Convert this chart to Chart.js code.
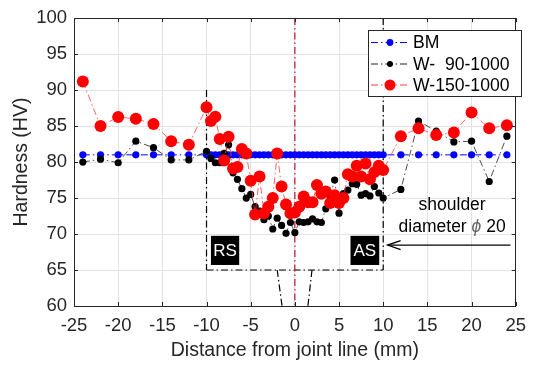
<!DOCTYPE html>
<html><head><meta charset="utf-8">
<script src="https://cdn.jsdelivr.net/npm/chart.js@4.4.0/dist/chart.umd.min.js"></script>
<style>html,body{margin:0;padding:0;background:#fff}canvas{display:block}</style>
</head><body>
<canvas id="c" width="535" height="365" style="width:535px;height:365px"></canvas>
<script>
// ---- data ----
const distances = [-24,-22,-20,-18,-16,-14,-12,
  -10,-9.5,-9,-8.5,-8,-7.5,-7,-6.5,-6,-5.5,-5,-4.5,-4,-3.5,-3,-2.5,-2,-1.5,-1,-0.5,
  0,0.5,1,1.5,2,2.5,3,3.5,4,4.5,5,5.5,6,6.5,7,7.5,8,8.5,9,9.5,10,
  12,14,16,18,20,22,24];
const bmHardness = [81,81,81,81,81,81,81,
  81,81,81,81,81,81,81,81,81,81,81,81,81,81,81,81,81,81,81,81,
  81,81,81,81,81,81,81,81,81,81,81,81,81,81,81,81,81,81,81,81,81,
  81,81,81,81,81,81,81];
const w90Hardness = [80.0,80.4,79.9,82.9,82.0,80.3,80.3,
  81.5,80.5,79.9,79.9,81.2,82.4,78.5,77.6,76.3,75.0,75.5,73.8,73.2,72.0,72.5,70.7,72.2,71.2,70.1,71.6,
  70.2,71.7,71.6,71.7,72.1,71.7,71.6,73.5,75.2,77.5,72.9,75.6,76.1,77.0,76.9,75.4,75.6,75.3,76.6,75.7,75.0,
  76.2,85.7,84.3,82.8,82.9,77.3,83.6];
const w150Hardness = [91.2,85.0,86.25,86.0,85.3,82.9,82.4,
  87.6,85.7,86.3,83.2,80.2,83.5,79.1,79.3,81.8,81.2,77.4,72.7,78.0,72.9,73.8,75.0,81.2,76.6,74.1,72.9,
  73.0,73.8,75.2,74.4,74.4,76.8,75.6,75.9,74.3,75.4,74.3,75.0,78.3,78.0,79.5,78.0,79.8,77.6,78.6,79.5,78.9,
  83.6,84.7,83.75,84.1,86.9,84.7,85.1];
const seriesLabels = ['BM', 'W-  90-1000', 'W-150-1000'];
const xLabel = 'Distance from joint line (mm)';
const yLabel = 'Hardness (HV)';

const FONT = '"Liberation Sans", Arial, sans-serif';
const DASHDOT = [7, 3, 1.5, 3];
const pts = (ys) => distances.map((x, i) => ({x: x, y: ys[i]}));

const styles = [
  {line: '#0000ff', pt: '#0000ff', r: 3.6, w: 1},
  {line: '#222222', pt: '#000000', r: 3.6, w: 0.8},
  {line: '#ff3b3b', pt: '#ff0000', r: 6, w: 0.8}
];

function dashLine(ctx, x1, y1, x2, y2, color, w) {
  ctx.save();
  ctx.strokeStyle = color; ctx.lineWidth = w; ctx.setLineDash(DASHDOT);
  ctx.beginPath(); ctx.moveTo(x1, y1); ctx.lineTo(x2, y2); ctx.stroke();
  ctx.restore();
}

const annot = {
  id: 'annot',
  beforeDatasetsDraw(chart) {
    const ctx = chart.ctx, xs = chart.scales.x, ys = chart.scales.y;
    const X = v => xs.getPixelForValue(v), Y = v => ys.getPixelForValue(v);
    dashLine(ctx, X(-10), Y(90), X(-10), Y(65), '#000', 1.2);
    dashLine(ctx, X(10), Y(100), X(10), Y(65), '#000', 1.2);
    dashLine(ctx, X(-10), Y(65), X(10), Y(65), '#000', 1.2);
    dashLine(ctx, X(-2.0), Y(65), X(-1.45), Y(60), '#000', 1.2);
    dashLine(ctx, X(1.94), Y(65), X(1.48), Y(60), '#000', 1.2);
    dashLine(ctx, X(0), Y(100), X(0), Y(60), '#c0102a', 1.2);
  },
  afterDraw(chart) {
    const ctx = chart.ctx, xs = chart.scales.x, ys = chart.scales.y, a = chart.chartArea;
    const X = v => xs.getPixelForValue(v), Y = v => ys.getPixelForValue(v);
    ctx.save();
    // frame
    ctx.strokeStyle = '#262626'; ctx.lineWidth = 1; ctx.setLineDash([]);
    ctx.strokeRect(Math.round(a.left) + 0.5, Math.round(a.top) + 0.5, Math.round(a.right - a.left) - 1, Math.round(a.bottom - a.top));
    ctx.beginPath();
    for (let v = -25; v <= 25; v += 5) {
      const px = Math.round(X(v)) + 0.5;
      ctx.moveTo(px, a.bottom); ctx.lineTo(px, a.bottom - 4);
      ctx.moveTo(px, a.top); ctx.lineTo(px, a.top + 4);
    }
    for (let v = 60; v <= 100; v += 5) {
      const py = Math.round(Y(v)) + 0.5;
      ctx.moveTo(a.left, py); ctx.lineTo(a.left + 4, py);
      ctx.moveTo(a.right, py); ctx.lineTo(a.right - 4, py);
    }
    ctx.stroke();

    // RS / AS boxes
    ctx.fillStyle = '#000';
    const boxes = [['RS', -9.5, -6.3], ['AS', 6.3, 9.55]];
    boxes.forEach(b => {
      const x1 = X(b[1]), x2 = X(b[2]), y1 = Y(69.75), y2 = Y(65.7);
      ctx.fillStyle = '#000';
      ctx.fillRect(x1, y1, x2 - x1, y2 - y1);
      ctx.fillStyle = '#fff';
      ctx.font = '17px ' + FONT;
      ctx.textAlign = 'center'; ctx.textBaseline = 'middle';
      ctx.fillText(b[0], (x1 + x2) / 2, (y1 + y2) / 2 + 1);
    });

    // arrow
    const ay = Y(68.47);
    ctx.strokeStyle = '#000'; ctx.lineWidth = 1.3;
    ctx.beginPath(); ctx.moveTo(X(24.4), ay); ctx.lineTo(X(10.5), ay); ctx.stroke();
    ctx.beginPath();
    ctx.moveTo(X(10.5) + 13, ay - 4.5); ctx.lineTo(X(10.5), ay); ctx.lineTo(X(10.5) + 13, ay + 4.5);
    ctx.stroke();

    // shoulder text
    ctx.fillStyle = '#000';
    ctx.font = '17.5px ' + FONT;
    ctx.textAlign = 'center'; ctx.textBaseline = 'middle';
    const cx = X(17.8);
    ctx.fillText('shoulder', cx, Y(73.96));
    const p1 = 'diameter ', p2 = '\u03D5', p3 = ' 20';
    ctx.font = '17.5px ' + FONT;
    const w1 = ctx.measureText(p1).width, w3 = ctx.measureText(p3).width;
    ctx.font = 'italic 17.5px ' + FONT;
    const w2 = ctx.measureText(p2).width;
    let sx = cx - (w1 + w2 + w3) / 2;
    const ty = Y(70.97);
    ctx.textAlign = 'left';
    ctx.font = '17.5px ' + FONT; ctx.fillStyle = '#000';
    ctx.fillText(p1, sx, ty);
    ctx.font = 'italic 17.5px ' + FONT; ctx.fillStyle = '#666';
    ctx.fillText(p2, sx + w1, ty);
    ctx.font = '17.5px ' + FONT; ctx.fillStyle = '#000';
    ctx.fillText(p3, sx + w1 + w2, ty);

    // legend
    const lx = 368.5, ly = 30.5, lw = 153, lh = 66;
    ctx.fillStyle = '#fff'; ctx.fillRect(lx, ly, lw, lh);
    ctx.strokeStyle = '#262626'; ctx.lineWidth = 1; ctx.strokeRect(lx, ly, lw, lh);
    const rows = [42.5, 64, 85];
    seriesLabels.forEach((lab, i) => {
      const s = styles[i];
      dashLine(ctx, 371, rows[i], 410, rows[i], s.line, 1);
      ctx.fillStyle = s.pt;
      ctx.beginPath(); ctx.arc(390, rows[i], i === 2 ? 5.5 : (i === 1 ? 3 : 3.4), 0, Math.PI * 2); ctx.fill();
      ctx.fillStyle = '#000'; ctx.font = '17.6px ' + FONT;
      ctx.textAlign = 'left'; ctx.textBaseline = 'middle';
      ctx.fillText(lab, 413, rows[i] + 1);
    });

    // axis titles
    ctx.fillStyle = '#262626';
    ctx.font = '19.5px ' + FONT;
    ctx.textAlign = 'center'; ctx.textBaseline = 'alphabetic';
    ctx.fillText(xLabel, (a.left + a.right) / 2, 355.5);
    ctx.save();
    ctx.translate(26.5, (a.top + a.bottom) / 2);
    ctx.rotate(-Math.PI / 2);
    ctx.fillText(yLabel, 0, 0);
    ctx.restore();
    ctx.restore();
  }
};

const datasets = [bmHardness, w90Hardness, w150Hardness].map((ys, i) => ({
  label: seriesLabels[i],
  data: pts(ys),
  borderColor: styles[i].line,
  borderWidth: styles[i].w,
  borderDash: DASHDOT,
  backgroundColor: styles[i].pt,
  pointBackgroundColor: styles[i].pt,
  pointBorderColor: styles[i].pt,
  pointBorderWidth: 0,
  pointRadius: styles[i].r,
  showLine: true,
  fill: false,
  tension: 0,
  order: 3 - i
}));

new Chart(document.getElementById('c'), {
  type: 'scatter',
  data: {datasets},
  options: {
    responsive: false,
    animation: false,
    devicePixelRatio: 1,
    layout: {padding: {top: 18, right: 12, left: 0, bottom: 0}},
    plugins: {legend: {display: false}, tooltip: {enabled: false}},
    scales: {
      x: {
        type: 'linear', min: -25, max: 25,
        afterFit: s => { s.height = 59; },
        grid: {color: '#e3e3e3', drawTicks: false, lineWidth: 1},
        border: {display: false},
        ticks: {stepSize: 5, padding: 9, color: '#262626', font: {family: FONT, size: 18.5}}
      },
      y: {
        min: 60, max: 100,
        afterFit: s => { s.width = 74; },
        grid: {color: '#e3e3e3', drawTicks: false, lineWidth: 1},
        border: {display: false},
        ticks: {stepSize: 5, padding: 7, color: '#262626', font: {family: FONT, size: 18.5}}
      }
    }
  },
  plugins: [annot]
});
</script>
</body></html>
